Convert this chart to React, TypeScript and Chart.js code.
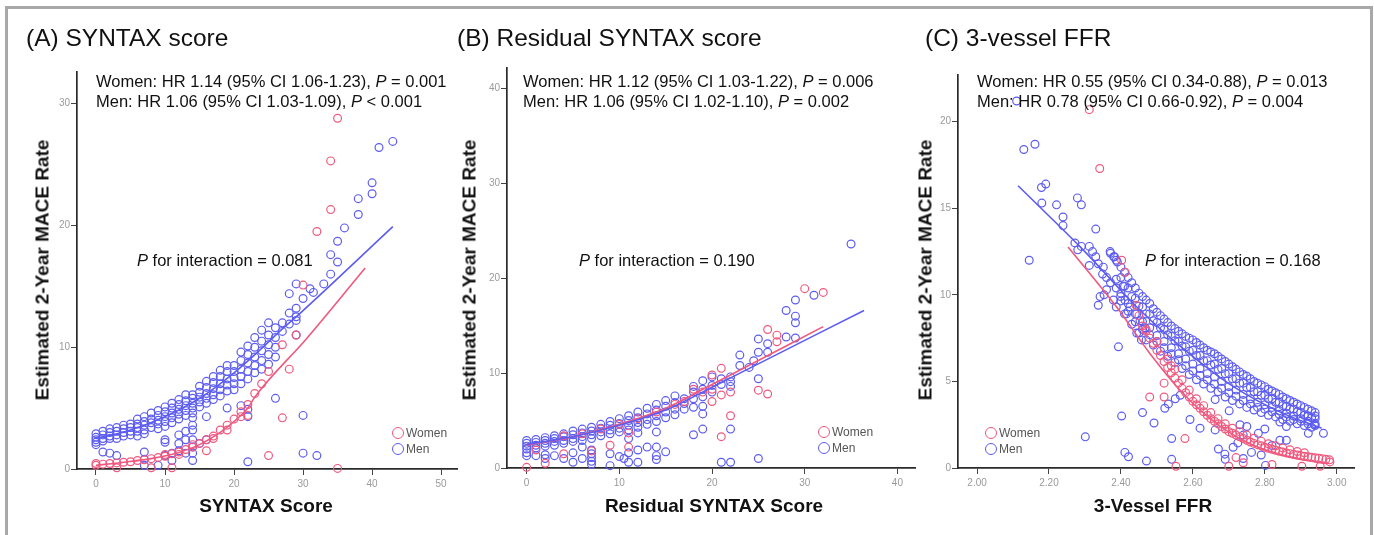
import React, { useEffect, useRef } from "react";
import { Chart, registerables } from "chart.js";

Chart.register(...registerables);

const FONT = 'Arial, "Liberation Sans", Helvetica, sans-serif';
const MEN = "#5c5cf0";
const WOMEN = "#f0587e";

type P2 = [number, number];

// ---------------- Panel A: SYNTAX score ----------------
const synTicksX = [0, 10, 20, 30, 40, 50];
const synTicksY = [0, 10, 20, 30];
const synMen: P2[] = [
  [0, 2.9], [0, 2.6], [0, 2.4], [0, 2.2], [0, 2.0],
  [1, 3.1], [1, 2.8], [1, 2.5], [1, 2.3],
  [2, 3.3], [2, 3.0], [2, 2.7], [2, 2.5],
  [3, 3.4], [3, 3.1], [3, 2.8], [3, 2.5],
  [4, 3.6], [4, 3.3], [4, 3.0], [4, 2.7],
  [5, 3.7], [5, 3.4], [5, 3.1], [5, 2.8],
  [6, 4.1], [6, 3.7], [6, 3.4], [6, 3.1], [6, 2.7],
  [7, 4.3], [7, 3.9], [7, 3.6], [7, 3.2], [7, 2.9],
  [8, 4.6], [8, 4.1], [8, 3.8], [8, 3.4],
  [9, 4.8], [9, 4.4], [9, 4.0], [9, 3.7], [9, 3.3],
  [10, 5.1], [10, 4.7], [10, 4.3], [10, 3.9], [10, 3.5],
  [11, 5.4], [11, 5.0], [11, 4.6], [11, 4.2], [11, 3.8],
  [12, 5.7], [12, 5.3], [12, 4.9], [12, 4.5], [12, 4.1],
  [13, 6.1], [13, 5.6], [13, 5.2], [13, 4.8], [13, 4.4],
  [14, 6.1], [14, 5.8], [14, 5.4], [14, 5.0], [14, 4.6], [14, 4.2],
  [15, 6.8], [15, 6.3], [15, 5.9], [15, 5.5], [15, 5.1],
  [16, 7.2], [16, 6.7], [16, 6.2], [16, 5.8], [16, 5.4], [16, 4.3],
  [17, 7.6], [17, 7.1], [17, 6.6], [17, 6.1], [17, 5.7],
  [18, 8.1], [18, 7.6], [18, 7.0], [18, 6.5], [18, 6.0],
  [19, 8.5], [19, 8.0], [19, 7.4], [19, 6.9], [19, 6.4], [19, 5.0],
  [20, 8.5], [20, 8.0], [20, 7.5], [20, 7.0], [20, 6.5],
  [21, 9.6], [21, 8.9], [21, 8.2], [21, 7.6], [21, 7.0], [21, 5.2],
  [22, 10.1], [22, 9.4], [22, 8.7], [22, 8.0], [22, 7.4], [22, 4.9], [22, 4.3], [22, 0.6],
  [23, 10.8], [23, 10.0], [23, 9.2], [23, 8.5], [23, 7.9],
  [24, 11.4], [24, 10.5], [24, 9.7], [24, 8.9], [24, 8.2],
  [25, 12.0], [25, 11.0], [25, 10.2], [25, 9.4], [25, 8.6],
  [26, 11.6], [26, 10.8], [26, 10.0], [26, 9.2], [26, 5.8],
  [27, 12.0], [27, 11.3],
  [28, 14.4], [28, 12.8], [28, 11.9],
  [29, 15.2], [29, 13.2], [29, 12.5], [29, 12.2], [29, 11.0],
  [30, 14.0], [30, 4.4], [30, 1.3],
  [31, 14.8], [31.5, 14.5], [32, 1.1], [33, 15.2],
  [34, 17.6], [34, 16.0], [35, 18.7], [35, 17.0], [36, 19.8],
  [38, 22.2], [38, 20.9], [40, 23.5], [40, 22.6], [41, 26.4], [43, 26.9],
  [1, 1.4], [2, 1.3], [3, 1.1], [7, 1.4], [7, 0.8], [7, 0.3], [9, 0.3],
  [10, 2.4], [10, 2.2], [10, 1.1], [11, 1.3], [11, 0.7],
  [12, 2.8], [12, 2.1], [12, 1.5], [13, 3.1], [13, 2.4], [13, 1.3],
  [14, 3.6], [14, 3.2], [14, 2.4], [14, 1.8], [14, 1.3], [14, 0.7], [15, 2.1], [16, 2.4],
];
const synWomen: P2[] = [
  [0, 0.3], [0, 0.45], [1, 0.4], [2, 0.45], [3, 0.5], [4, 0.55], [5, 0.6], [6, 0.7],
  [7, 0.75], [8, 0.85], [9, 0.95], [10, 1.05], [10, 1.2], [11, 1.25], [12, 1.4], [13, 1.6],
  [14, 1.8], [15, 2.1], [16, 2.4], [17, 2.7], [18, 3.2], [19, 3.6], [20, 4.1], [21, 4.7],
  [22, 5.3], [23, 6.2], [24, 7.0], [25, 8.0], [27, 10.2], [29, 11.0], [30, 15.1], [32, 19.5],
  [34, 25.3], [34, 21.3], [35, 28.8],
  [16, 1.5], [17, 2.5], [19, 3.2], [21, 4.3], [22, 4.4], [27, 4.2], [28, 8.2], [25, 1.1],
  [35, 0.05], [8, 0.1], [11, 0.1], [3, 0.1], [12, 1.2], [14, 2.0],
];
const synMenLine: P2[] = [[0, 2.5], [5, 3.2], [10, 4.3], [15, 5.8], [20, 7.9], [24, 9.9], [27, 11.5], [29.6, 12.8], [43, 19.9]];
const synWomenLine: P2[] = [[0, 0.3], [4, 0.55], [8, 0.85], [12, 1.35], [15, 2.0], [18, 3.0], [20, 3.9], [22, 5.0], [23, 5.9], [30.5, 10.7], [39, 16.5]];

// ---------------- Panel B: Residual SYNTAX score ----------------
const resTicksX = [0, 10, 20, 30, 40];
const resTicksY = [0, 10, 20, 30, 40];
const resMen: P2[] = [
  [0, 2.9], [0, 2.6], [0, 2.3], [0, 2.0], [0, 1.6], [0, 1.3],
  [1, 3.0], [1, 2.7], [1, 2.4], [1, 2.1], [1, 1.3],
  [2, 3.2], [2, 2.9], [2, 2.6], [2, 2.3], [2, 1.4], [2, 1.0],
  [3, 3.4], [3, 3.1], [3, 2.8], [3, 2.4], [3, 1.3],
  [4, 3.6], [4, 3.3], [4, 2.9], [4, 2.6], [4, 1.0],
  [5, 3.9], [5, 3.5], [5, 3.1], [5, 2.8], [5, 1.6], [5, 0.6],
  [6, 4.1], [6, 3.7], [6, 3.3], [6, 2.9], [6, 2.2], [6, 1.0],
  [7, 4.3], [7, 3.9], [7, 3.5], [7, 3.1], [7, 1.9], [7, 1.5], [7, 1.1], [7, 0.7], [7, 0.4],
  [8, 4.6], [8, 4.2], [8, 3.8], [8, 3.4],
  [9, 4.9], [9, 4.5], [9, 4.0], [9, 3.6], [9, 1.5], [9, 0.25],
  [10, 5.2], [10, 4.7], [10, 4.2], [10, 3.8], [10, 1.2], [10.5, 1.0],
  [11, 5.5], [11, 5.0], [11, 4.5], [11, 4.0], [11, 3.1], [11, 1.6], [11, 0.6],
  [12, 5.9], [12, 5.3], [12, 4.8], [12, 4.3], [12, 3.7], [12, 1.9], [12, 0.6],
  [13, 6.3], [13, 5.7], [13, 5.1], [13, 4.6], [13, 2.2],
  [14, 6.7], [14, 6.1], [14, 5.5], [14, 4.9], [14, 3.8], [14, 2.2], [14, 1.3], [14, 0.9],
  [15, 7.1], [15, 6.5], [15, 5.9], [15, 5.3], [15, 1.7],
  [16, 7.6], [16, 6.9], [16, 6.2], [16, 5.6],
  [17, 7.3], [17, 6.8], [17, 6.2],
  [18, 8.6], [18, 8.0], [18, 7.3], [18, 6.4], [18, 3.5],
  [19, 9.2], [19, 8.3], [19, 7.5], [19, 6.5], [19, 5.7], [19, 4.1],
  [20, 9.6], [20, 8.7], [20, 8.0],
  [21, 9.4], [21, 8.8], [21, 0.6],
  [22, 9.6], [22, 9.1], [22, 8.6], [22, 4.1], [22, 0.6],
  [23, 11.9], [23, 10.8], [24, 10.6], [24.5, 11.3],
  [25, 13.6], [25, 12.2], [25, 9.4], [25, 1.0],
  [26, 13.1], [26, 12.2],
  [28, 16.6], [28, 13.8], [29, 17.7], [29, 16.0], [29, 15.3], [29, 13.7], [31, 18.2], [35, 23.6],
];
const resWomen: P2[] = [
  [0, 0.07], [1, 1.9], [2, 0.5], [4, 1.5], [7, 1.8], [9, 2.4], [11, 2.2], [11, 3.7],
  [4, 3.4], [6, 3.6], [8, 4.1], [10, 4.6], [12, 5.2], [14, 5.9], [16, 6.7], [17, 7.0],
  [18, 8.3], [19, 8.0], [20, 9.8], [20, 8.3], [20, 7.0], [21, 10.5], [21, 7.7], [21, 3.3],
  [22, 8.0], [22, 5.5], [25, 8.2], [26, 7.8], [26, 14.6], [27, 14.0], [27, 13.3],
  [30, 18.9], [32, 18.5],
];
const resMenLine: P2[] = [[0, 2.5], [5, 3.3], [10, 4.5], [15, 6.1], [20, 8.5], [22, 9.5], [36.4, 16.6]];
const resWomenLine: P2[] = [[0, 2.4], [5, 3.3], [10, 4.6], [15, 6.3], [20, 8.8], [22, 9.8], [32, 14.9]];

// ---------------- Panel C: 3-vessel FFR ----------------
const ffrTicksX = [2.0, 2.2, 2.4, 2.6, 2.8, 3.0];
const ffrTicksY = [0, 5, 10, 15, 20];
const ffrMenScatter: P2[] = [
  [2.11, 21.2], [2.13, 18.4], [2.161, 18.7], [2.179, 16.2], [2.191, 16.4], [2.18, 15.3],
  [2.221, 15.2], [2.239, 14.5], [2.239, 14.0], [2.279, 15.6], [2.29, 15.2], [2.33, 13.8], [2.145, 12.0],
  [2.272, 13.0], [2.29, 12.8], [2.312, 12.8], [2.28, 12.6], [2.321, 12.5], [2.33, 12.2], [2.312, 11.7],
  [2.337, 11.8], [2.351, 11.6], [2.371, 12.4], [2.382, 12.2], [2.387, 12.0], [2.349, 11.2], [2.36, 11.0],
  [2.371, 10.7], [2.387, 10.4], [2.342, 9.9], [2.353, 10.0], [2.379, 9.7], [2.399, 9.9], [2.411, 9.7],
  [2.425, 9.3], [2.337, 9.4], [2.387, 9.3], [2.415, 8.9], [2.393, 7.0], [2.36, 10.3], [2.444, 8.9],
  [2.453, 8.5], [2.467, 8.1], [2.406, 10.5], [2.387, 10.9], [2.457, 7.4], [2.444, 7.8],
  [2.301, 1.8], [2.402, 3.0], [2.46, 3.2], [2.492, 2.6], [2.411, 0.9], [2.421, 0.65], [2.471, 0.4],
  [2.541, 1.7], [2.541, 0.5], [2.592, 2.8], [2.522, 3.45], [2.532, 3.7], [2.551, 4.0], [2.565, 4.2],
  [2.62, 2.3], [2.662, 2.2], [2.671, 1.1], [2.689, 0.8], [2.712, 1.2], [2.725, 1.45], [2.731, 2.5],
  [2.75, 2.4], [2.74, 1.9], [2.763, 0.9], [2.79, 0.75], [2.802, 0.15], [2.82, 1.3], [2.842, 1.6],
  [2.86, 1.6], [2.782, 2.0], [2.80, 2.25], [2.842, 2.65], [2.86, 2.4], [2.921, 2.0], [2.963, 2.0],
  [2.94, 3.0], [2.92, 3.0], [2.938, 2.5], [2.74, 0.55], [2.662, 3.95], [2.701, 3.3], [2.69, 0.5],
];
const ffrMenTopX = [
  2.37, 2.38, 2.39, 2.40, 2.41, 2.42, 2.43, 2.44, 2.45, 2.46, 2.47, 2.48, 2.49, 2.50, 2.51, 2.52,
  2.53, 2.54, 2.55, 2.56, 2.57, 2.58, 2.59, 2.60, 2.61, 2.62, 2.63, 2.64, 2.65, 2.66, 2.67, 2.68,
  2.69, 2.70, 2.71, 2.72, 2.73, 2.74, 2.75, 2.76, 2.77, 2.78, 2.79, 2.80, 2.81, 2.82, 2.83, 2.84,
  2.85, 2.86, 2.87, 2.88, 2.89, 2.90, 2.91, 2.92, 2.93, 2.94,
];
const ffrMenTopY = [
  12.5, 12.2, 11.9, 11.6, 11.3, 11.0, 10.7, 10.4, 10.1, 9.9, 9.7, 9.5, 9.2, 9.0, 8.8, 8.6,
  8.4, 8.2, 8.05, 7.9, 7.75, 7.6, 7.5, 7.4, 7.25, 7.1, 6.95, 6.8, 6.7, 6.6, 6.45, 6.3,
  6.15, 6.0, 5.85, 5.7, 5.55, 5.4, 5.3, 5.15, 5.0, 4.9, 4.8, 4.7, 4.55, 4.45, 4.35, 4.25,
  4.1, 4.0, 3.9, 3.8, 3.7, 3.6, 3.5, 3.4, 3.3, 3.2,
];
const ffrGridEven = [
  2.40, 2.42, 2.44, 2.46, 2.48, 2.50, 2.52, 2.54, 2.56, 2.58, 2.60, 2.62, 2.64, 2.66,
  2.68, 2.70, 2.72, 2.74, 2.76, 2.78, 2.80, 2.82, 2.84, 2.86, 2.88, 2.90, 2.92, 2.94,
];
const ffrMenRow2 = [
  11.0, 10.4, 9.8, 9.3, 8.9, 8.4, 8.0, 7.6, 7.3, 7.0, 6.8, 6.5, 6.2, 6.0,
  5.75, 5.45, 5.15, 4.9, 4.65, 4.4, 4.2, 4.0, 3.8, 3.55, 3.4, 3.2, 3.0, 2.85,
];
const ffrMenRow3 = [
  10.1, 9.5, 8.9, 8.45, 8.1, 7.65, 7.3, 6.95, 6.6, 6.3, 6.0, 5.75, 5.45, 5.25,
  5.0, 4.7, 4.5, 4.25, 4.0, 3.8, 3.65, 3.5, 3.3, 3.15, 3.0, 2.85, 2.7, 2.55,
];
const ffrMenRow3b = [
  9.65, 9.05, 8.45, 8.0, 7.7, 7.3, 6.95, 6.6, 6.25, 5.9, 5.6, 5.35, 5.1, 4.85,
  4.6, 4.35, 4.15, 3.9, 3.7, 3.5, 3.4, 3.25, 3.1, 2.95, 2.8, 2.7, 2.55, 2.45,
];
const ffrGridOdd = [
  2.41, 2.43, 2.45, 2.47, 2.49, 2.51, 2.53, 2.55, 2.57, 2.59, 2.61, 2.63, 2.65, 2.67,
  2.69, 2.71, 2.73, 2.75, 2.77, 2.79, 2.81, 2.83, 2.85, 2.87, 2.89, 2.91, 2.93,
];
const ffrMenRow2b = [
  10.5, 9.9, 9.35, 8.9, 8.5, 8.1, 7.7, 7.35, 7.05, 6.75, 6.5, 6.2, 5.95, 5.7,
  5.45, 5.15, 4.9, 4.65, 4.4, 4.2, 4.0, 3.8, 3.6, 3.4, 3.25, 3.05, 2.9,
];
const ffrMenRow4 = [
  8.9, 8.3, 7.8, 7.4, 7.1, 6.75, 6.45, 6.1, 5.75, 5.4, 5.1, 4.85, 4.6, 4.4,
  4.1, 3.9, 3.7, 3.5, 3.35, 3.2, 3.05, 2.95, 2.8, 2.7, 2.55, 2.45, 2.35,
];
const ffrWomenRow1X = [
  2.46, 2.47, 2.48, 2.49, 2.50, 2.51, 2.52, 2.53, 2.54, 2.55, 2.56, 2.57, 2.58, 2.59, 2.60,
  2.61, 2.62, 2.63, 2.64, 2.65, 2.66, 2.67, 2.68, 2.69, 2.70, 2.71, 2.72, 2.73, 2.74, 2.75,
  2.76, 2.77, 2.78, 2.79, 2.80, 2.81, 2.82, 2.83, 2.84, 2.85, 2.86, 2.87, 2.88, 2.89, 2.90,
  2.91, 2.92, 2.93, 2.94, 2.95, 2.96, 2.97, 2.98,
];
const ffrWomenRow1Y = [
  8.2, 7.9, 7.5, 7.2, 6.8, 6.5, 6.15, 5.8, 5.5, 5.2, 4.9, 4.6, 4.35, 4.1, 3.85,
  3.65, 3.45, 3.25, 3.05, 2.85, 2.7, 2.55, 2.4, 2.25, 2.1, 2.0, 1.9, 1.8, 1.7, 1.6,
  1.5, 1.42, 1.35, 1.28, 1.2, 1.14, 1.08, 1.02, 0.97, 0.92, 0.87, 0.83, 0.79, 0.75, 0.71,
  0.68, 0.65, 0.62, 0.59, 0.56, 0.53, 0.5, 0.47,
];
const ffrWomenRow2X = [
  2.53, 2.55, 2.57, 2.59, 2.61, 2.63, 2.65, 2.67, 2.69, 2.71,
  2.73, 2.75, 2.77, 2.79, 2.81, 2.83, 2.85, 2.87, 2.89, 2.91,
];
const ffrWomenRow2Y = [
  6.3, 5.7, 5.1, 4.5, 4.0, 3.6, 3.2, 2.85, 2.55, 2.3,
  2.1, 1.9, 1.72, 1.55, 1.4, 1.28, 1.15, 1.05, 0.95, 0.88,
];
const ffrWomenScatter: P2[] = [
  [2.312, 20.7], [2.341, 17.3], [2.402, 12.0], [2.412, 11.3], [2.442, 9.4], [2.48, 4.1],
  [2.52, 4.1], [2.52, 4.9], [2.578, 1.7], [2.553, 0.1], [2.70, 0.1], [2.72, 0.6], [2.74, 0.3],
  [2.82, 0.2], [2.903, 0.1], [2.954, 0.1], [2.981, 0.35], [2.45, 8.8], [2.47, 8.0], [2.50, 7.3],
  [2.54, 5.9],
];
const ffrMenLine: P2[] = [[2.114, 16.3], [2.295, 12.6], [2.444, 9.3], [2.573, 6.9], [2.713, 4.7], [2.852, 3.14], [2.958, 2.3]];
const ffrWomenLine: P2[] = [[2.253, 12.77], [2.388, 9.3], [2.481, 6.6], [2.573, 4.3], [2.666, 2.56], [2.759, 1.4], [2.852, 0.73], [2.945, 0.34], [2.975, 0.25]];

// ---------------- helpers ----------------
const pts = (a: P2[]) => a.map(([x, y]) => ({ x, y }));
const zip = (xs: number[], ys: number[]) => xs.map((x, i) => ({ x, y: ys[i] }));

type Panel = {
  title: string; titleX: number; xTitle: string; xTitleX: number; yTitleX: number;
  area: { left: number; right: number; top: number; bottom: number };
  xMin: number; xMax: number; yMax: number; ticksX: number[]; ticksY: number[]; decimals: number;
  men: { x: number; y: number }[]; women: { x: number; y: number }[];
  menLine: { x: number; y: number }[]; womenLine: { x: number; y: number }[];
  annX: number; w1: string; wp: string; m1: string; mp: string;
  pintX: number; pint: string;
  legCx: number; legTx: number; legY1: number; legY2: number;
};

const panels: Panel[] = [
  {
    title: "(A) SYNTAX score", titleX: 26, xTitle: "SYNTAX Score", xTitleX: 266, yTitleX: 42,
    area: { left: 77, right: 457, top: 72, bottom: 469 },
    xMin: -2.75, xMax: 52.3, yMax: 32.6, ticksX: synTicksX, ticksY: synTicksY, decimals: 0,
    men: pts(synMen), women: pts(synWomen), menLine: pts(synMenLine), womenLine: pts(synWomenLine),
    annX: 96, w1: "Women: HR 1.14 (95% CI 1.06-1.23), ", wp: " = 0.001", m1: "Men: HR 1.06 (95% CI 1.03-1.09), ", mp: " < 0.001",
    pintX: 137, pint: "0.081", legCx: 398, legTx: 406, legY1: 433, legY2: 449,
  },
  {
    title: "(B) Residual SYNTAX score", titleX: 457, xTitle: "Residual SYNTAX Score", xTitleX: 714, yTitleX: 469,
    area: { left: 507, right: 915, top: 68, bottom: 468 },
    xMin: -2.12, xMax: 41.9, yMax: 42.15, ticksX: resTicksX, ticksY: resTicksY, decimals: 0,
    men: pts(resMen), women: pts(resWomen), menLine: pts(resMenLine), womenLine: pts(resWomenLine),
    annX: 523, w1: "Women: HR 1.12 (95% CI 1.03-1.22), ", wp: " = 0.006", m1: "Men: HR 1.06 (95% CI 1.02-1.10), ", mp: " = 0.002",
    pintX: 579, pint: "0.190", legCx: 824, legTx: 832, legY1: 432, legY2: 448,
  },
  {
    title: "(C) 3-vessel FFR", titleX: 925, xTitle: "3-Vessel FFR", xTitleX: 1153, yTitleX: 925,
    area: { left: 958, right: 1354, top: 75, bottom: 468 },
    xMin: 1.947, xMax: 3.048, yMax: 22.7, ticksX: ffrTicksX, ticksY: ffrTicksY, decimals: 2,
    men: [
      ...pts(ffrMenScatter), ...zip(ffrMenTopX, ffrMenTopY), ...zip(ffrGridEven, ffrMenRow2),
      ...zip(ffrGridEven, ffrMenRow3), ...zip(ffrGridEven, ffrMenRow3b),
      ...zip(ffrGridOdd, ffrMenRow2b), ...zip(ffrGridOdd, ffrMenRow4),
    ],
    women: [...pts(ffrWomenScatter), ...zip(ffrWomenRow1X, ffrWomenRow1Y), ...zip(ffrWomenRow2X, ffrWomenRow2Y)],
    menLine: pts(ffrMenLine), womenLine: pts(ffrWomenLine),
    annX: 977, w1: "Women: HR 0.55 (95% CI 0.34-0.88), ", wp: " = 0.013", m1: "Men: HR 0.78 (95% CI 0.66-0.92), ", mp: " = 0.004",
    pintX: 1145, pint: "0.168", legCx: 991, legTx: 999, legY1: 433, legY2: 449,
  },
];

const CW = 1374;
const CH = 535;
const YW = 30;
const XH = 26;

function makeConfig(p: Panel): any {
  const scatterDs = (data: any[], color: string, order: number) => ({
    data, borderColor: color, backgroundColor: "rgba(0,0,0,0)", pointRadius: 3.9,
    pointBorderWidth: 1.2, pointHoverRadius: 3.9, showLine: false, order, clip: false,
  });
  const lineDs = (data: any[], color: string) => ({
    data, borderColor: color, backgroundColor: color, borderWidth: 1.6, pointRadius: 0,
    showLine: true, cubicInterpolationMode: "monotone", order: 0, fill: false,
  });
  const axisCommon = {
    type: "linear",
    grid: { drawOnChartArea: false, drawTicks: true, tickLength: 6, color: "#444", lineWidth: 1 },
    border: { display: true, color: "#2a2a2a", width: 1.7 },
  };
  return {
    type: "scatter",
    data: {
      datasets: [
        lineDs(p.menLine, MEN),
        lineDs(p.womenLine, WOMEN),
        scatterDs(p.women, WOMEN, 1),
        scatterDs(p.men, MEN, 2),
      ],
    },
    options: {
      responsive: false,
      animation: false,
      events: [],
      layout: {
        padding: { left: p.area.left - YW, right: CW - p.area.right, top: p.area.top, bottom: CH - p.area.bottom - XH },
      },
      plugins: { legend: { display: false }, tooltip: { enabled: false } },
      scales: {
        x: {
          ...axisCommon,
          position: "bottom",
          min: p.xMin,
          max: p.xMax,
          afterBuildTicks: (s: any) => { s.ticks = p.ticksX.map((v) => ({ value: v })); },
          afterFit: (s: any) => { s.height = XH; },
          ticks: {
            color: "#9a9a9a", font: { family: FONT, size: 10 }, padding: 3, autoSkip: false, maxRotation: 0,
            callback: (v: any) => Number(v).toFixed(p.decimals),
          },
        },
        y: {
          ...axisCommon,
          position: "left",
          min: 0,
          max: p.yMax,
          afterBuildTicks: (s: any) => { s.ticks = p.ticksY.map((v) => ({ value: v })); },
          afterFit: (s: any) => { s.width = YW; },
          ticks: {
            color: "#9a9a9a", font: { family: FONT, size: 10 }, padding: 1, autoSkip: false,
            callback: (v: any) => String(v),
          },
        },
      },
    },
  };
}

function PanelChart({ p }: { p: Panel }) {
  const ref = useRef<HTMLCanvasElement>(null);
  useEffect(() => {
    if (!ref.current) return;
    const chart = new Chart(ref.current, makeConfig(p));
    return () => chart.destroy();
  }, [p]);
  return (
    <canvas
      ref={ref}
      width={CW}
      height={CH}
      style={{ position: "absolute", left: 0, top: 0, width: CW, height: CH }}
    />
  );
}

const abs = (extra: React.CSSProperties): React.CSSProperties => ({
  position: "absolute", whiteSpace: "nowrap", lineHeight: 1, fontFamily: FONT, color: "#111", ...extra,
});

function Overlay({ p }: { p: Panel }) {
  return (
    <>
      <div style={abs({ left: p.titleX, top: 38, transform: "translateY(-50%)", fontSize: 24.5 })}>{p.title}</div>
      <div style={abs({ left: p.annX, top: 81, transform: "translateY(-50%)", fontSize: 16.5 })}>
        {p.w1}<i>P</i>{p.wp}
      </div>
      <div style={abs({ left: p.annX, top: 101, transform: "translateY(-50%)", fontSize: 16.5 })}>
        {p.m1}<i>P</i>{p.mp}
      </div>
      <div style={abs({ left: p.pintX, top: 260, transform: "translateY(-50%)", fontSize: 16.5 })}>
        <i>P</i> for interaction = {p.pint}
      </div>
      <div
        style={abs({
          left: p.yTitleX, top: 270, transform: "translate(-50%, -50%) rotate(-90deg)",
          fontSize: 19, fontWeight: "bold",
        })}
      >
        Estimated 2-Year MACE Rate
      </div>
      <div style={abs({ left: p.xTitleX, top: 505, transform: "translate(-50%, -50%)", fontSize: 19, fontWeight: "bold" })}>
        {p.xTitle}
      </div>
      {[
        { y: p.legY1, c: WOMEN, t: "Women" },
        { y: p.legY2, c: MEN, t: "Men" },
      ].map((l) => (
        <React.Fragment key={l.t}>
          <span
            style={{
              position: "absolute", left: p.legCx - 6, top: l.y - 6, width: 12, height: 12,
              border: `1.4px solid ${l.c}`, borderRadius: "50%", boxSizing: "border-box",
            }}
          />
          <div style={abs({ left: p.legTx, top: l.y, transform: "translateY(-50%)", fontSize: 12, color: "#555" })}>
            {l.t}
          </div>
        </React.Fragment>
      ))}
    </>
  );
}

export default function App() {
  return (
    <div
      style={{
        position: "fixed", left: 0, top: 0, width: CW, height: CH, overflow: "hidden",
        background: "#fff", fontFamily: FONT,
      }}
    >
      <div
        style={{
          position: "absolute", left: 5, top: 6, width: 1368, height: 600,
          border: "3px solid #a8a8a8", borderBottom: "none", boxSizing: "border-box",
        }}
      />
      {panels.map((p, i) => (
        <PanelChart key={"c" + i} p={p} />
      ))}
      {panels.map((p, i) => (
        <Overlay key={"o" + i} p={p} />
      ))}
    </div>
  );
}
